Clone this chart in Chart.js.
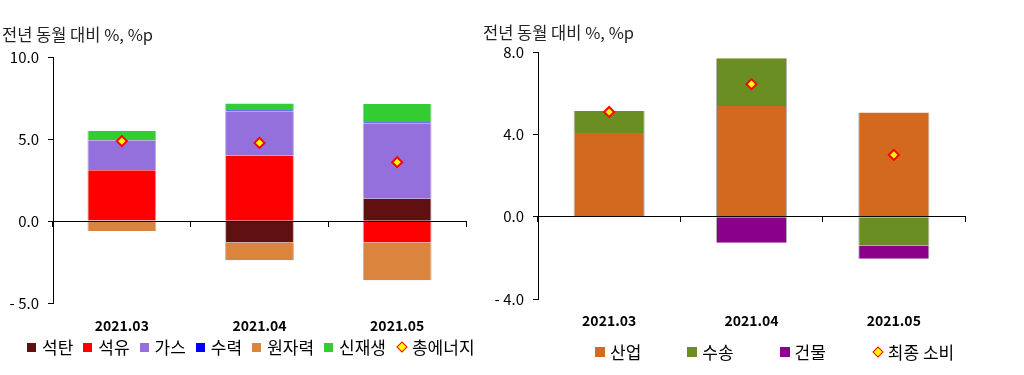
<!DOCTYPE html>
<html><head><meta charset="utf-8">
<script src="https://cdn.jsdelivr.net/npm/chart.js@4"></script>
<style>
body{margin:0;background:#fff;width:1024px;height:375px;overflow:hidden;position:relative;font-family:"Noto Sans CJK KR","Noto Sans",sans-serif}
canvas{position:absolute;top:0}
#c1{left:0}
#c2{left:480px}
.legend{position:absolute;display:flex;align-items:center;font-size:17px;color:#000;line-height:20px;white-space:nowrap}
.item{display:flex;align-items:center}
.box{width:9px;height:9px;margin-right:6px}
.dia{width:6px;height:6px;background:#ff0;border:1.7px solid #f00;transform:rotate(45deg);margin:0 6px 0 2px}
#lg2 .box{width:10px;height:10px;margin-right:5px}
</style>
</head><body>
<canvas id="c1" width="480" height="375"></canvas>
<canvas id="c2" width="544" height="375"></canvas>
<div id="lg1" class="legend" style="left:27px;top:337px;gap:10px"></div>
<div id="lg2" class="legend" style="left:595px;top:342px;gap:46px"></div>
<script>
// ---- data ----
const categories = ['2021.03', '2021.04', '2021.05'];
const axisTitle = '전년 동월 대비 %, %p';

const energyNames = ['석탄', '석유', '가스', '수력', '원자력', '신재생', '총에너지'];
const coal    = [0.05, -1.30, 1.37];
const oil     = [3.06, 4.00, -1.30];
const gas     = [1.84, 2.72, 4.61];
const hydro   = [0.00, 0.06, 0.07];
const nuclear = [-0.59, -1.09, -2.31];
const renew   = [0.59, 0.42, 1.12];
const totalEnergy = [4.90, 4.79, 3.61];
const leftTicks = [-5, 0, 5, 10];

const sectorNames = ['산업', '수송', '건물', '최종 소비'];
const industry  = [4.07, 5.39, 5.07];
const transport = [1.08, 2.32, -1.41];
const buildings = [-0.02, -1.26, -0.63];
const finalUse  = [5.10, 6.45, 3.01];
const rightTicks = [-4, 0, 4, 8];

const energyColors = ['#601010', '#FF0000', '#9370DB', '#0000FF', '#DB843D', '#33CC33'];
const sectorColors = ['#D2691E', '#6B8E23', '#8B008B'];
const FONT = '"Noto Sans CJK KR", "Noto Sans", sans-serif';

function fmt(v){ return v < 0 ? '- ' + Math.abs(v).toFixed(1) : v.toFixed(1); }

function makeChart(id, series, names, colors, total, ticks, L){
  const datasets = series.map((d, i) => ({
    type: 'bar', label: names[i], data: d,
    backgroundColor: colors[i],
    borderColor: 'rgba(150,150,150,0.7)',
    borderWidth: {left:1, right:1, top:0, bottom:0},
    borderSkipped: false,
    barPercentage: 0.5, categoryPercentage: 1.0,
    order: 0
  }));
  datasets.push({
    type: 'line', label: names[names.length-1], data: total,
    showLine: false, pointStyle: 'rectRot', pointRadius: 5, pointHoverRadius: 5,
    pointBackgroundColor: '#FFFF00', pointBorderColor: '#FF0000', pointBorderWidth: 2,
    backgroundColor: '#FFFF00', borderColor: '#FF0000', stack: 'total', order: -1
  });
  const step = ticks[1] - ticks[0];
  return new Chart(document.getElementById(id), {
    data: { labels: categories, datasets },
    options: {
      responsive: false, animation: false, devicePixelRatio: 1,
      layout: { padding: { left: L.padLeft, right: L.padRight, top: 0, bottom: L.padBottom } },
      plugins: {
        legend: { display: false }, tooltip: { enabled: false },
        title: { display: true, text: axisTitle, align: 'start', color: '#222',
          font: { family: FONT, size: 16.5, weight: 'normal' },
          padding: { top: L.titleTop, bottom: L.titleBottom } }
      },
      scales: {
        x: { stacked: true, position: 'bottom',
          grid: { display: false, drawTicks: false }, border: { display: false },
          ticks: { color: '#000', font: { family: FONT, size: 14, weight: 'bold' }, padding: L.xPad },
          afterFit(s){ s.height = L.xH; } },
        x2: { type: 'category', position: { y: 0 }, offset: true, z: 1,
          grid: { offset: true, drawOnChartArea: false, drawTicks: true, tickLength: 5, color: '#000' },
          border: { display: true, color: '#000', width: 1 },
          ticks: { display: false } },
        y: { stacked: true, min: ticks[0], max: ticks[ticks.length-1],
          afterBuildTicks(s){ s.ticks = ticks.map(v => ({ value: v })); },
          ticks: { stepSize: step, color: '#000', font: { family: FONT, size: 15 }, padding: 9,
            callback: v => fmt(v) },
          grid: { drawOnChartArea: false, drawTicks: true, tickLength: 5, color: '#000' },
          border: { color: '#000', width: 1 },
          afterFit(s){ s.width = L.yW; } }
      }
    }
  });
}

makeChart('c1', [coal, oil, gas, hydro, nuclear, renew], energyNames, energyColors, totalEnergy, leftTicks,
  { padLeft: 2, padRight: 14, padBottom: 32, yW: 51, xH: 40, xPad: 14, titleTop: 25.3, titleBottom: 12.6 });
makeChart('c2', [industry, transport, buildings], sectorNames, sectorColors, finalUse, rightTicks,
  { padLeft: 3, padRight: 59, padBottom: 36, yW: 55, xH: 40, xPad: 13, titleTop: 22.4, titleBottom: 10.1 });

function buildLegend(el, names, colors){
  const box = document.getElementById(el);
  names.forEach((n, i) => {
    const it = document.createElement('div'); it.className = 'item';
    const m = document.createElement('div');
    if (i < colors.length) { m.className = 'box'; m.style.background = colors[i]; }
    else { m.className = 'dia'; }
    const t = document.createElement('span'); t.textContent = n;
    it.appendChild(m); it.appendChild(t); box.appendChild(it);
  });
}
buildLegend('lg1', energyNames, energyColors);
buildLegend('lg2', sectorNames, sectorColors);
</script>
</body></html>
